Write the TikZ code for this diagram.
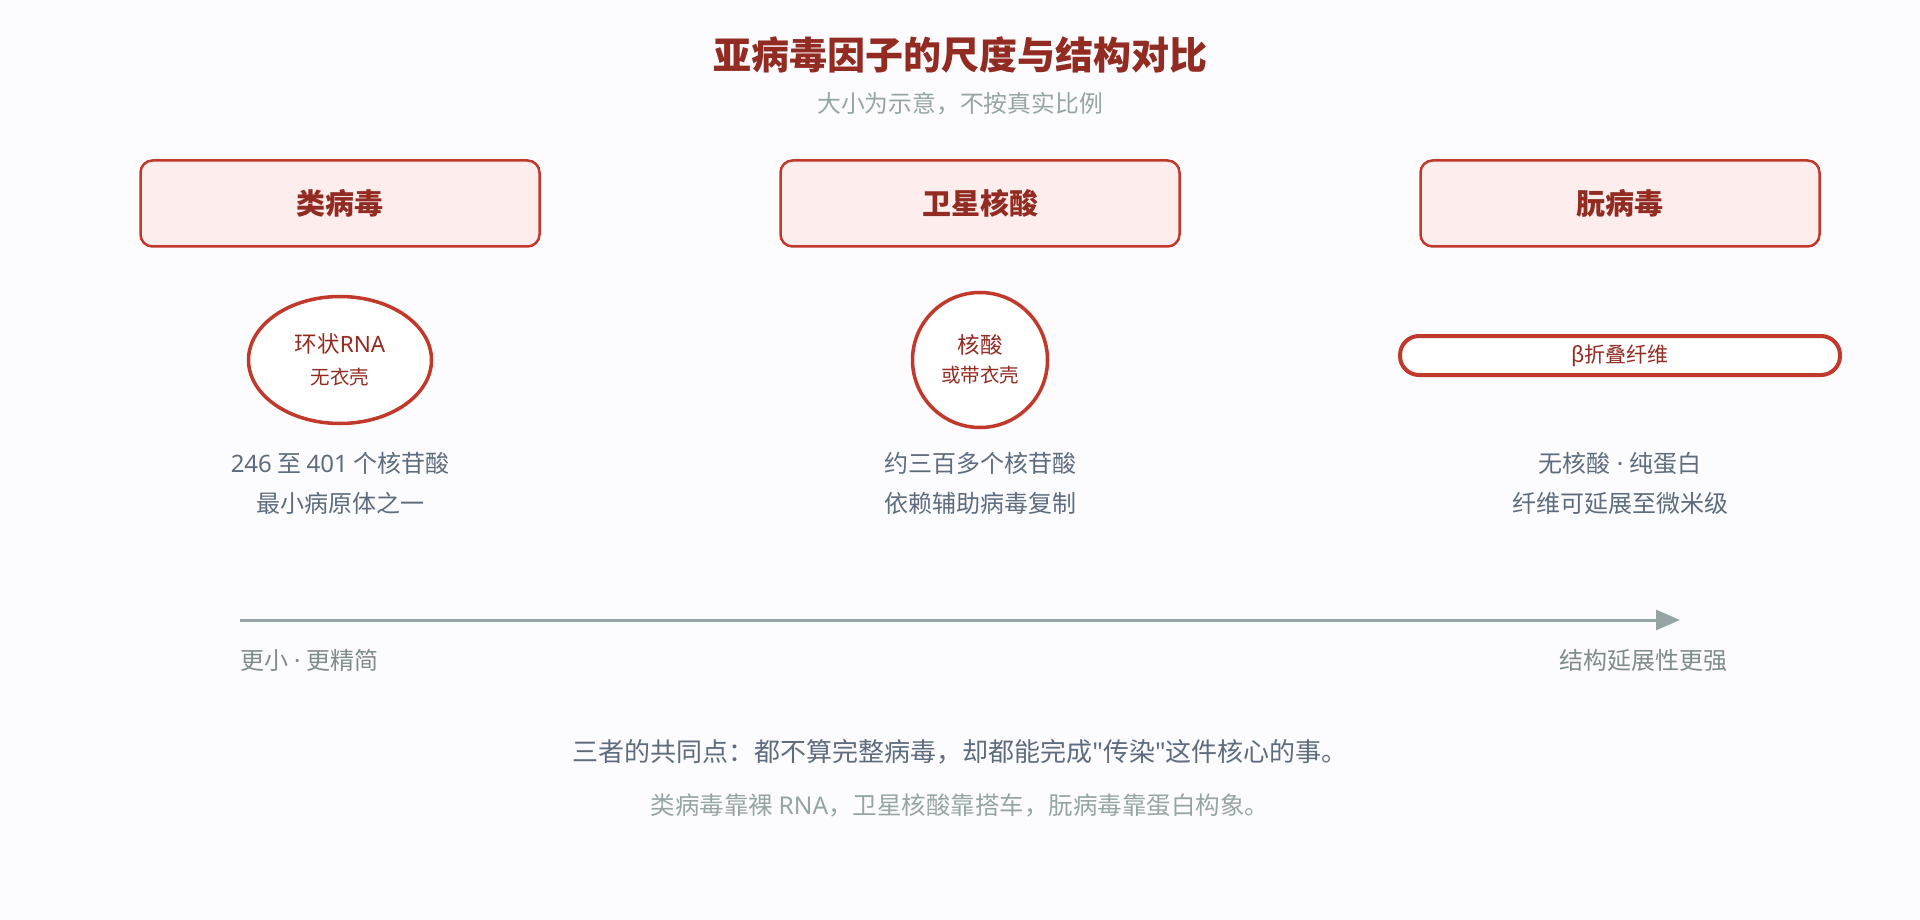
\documentclass[tikz,border=0pt]{standalone}
\usepackage{fontspec}
\setmainfont{Noto Sans CJK SC}[Ligatures=TeXOff]
\newfontfamily\latinf{Noto Sans}[Ligatures=TeXOff]
\usetikzlibrary{shapes.geometric,arrows.meta}
\definecolor{bgc}{HTML}{FCFBFE}
\definecolor{darkred}{HTML}{922B21}
\definecolor{redline}{HTML}{C0392B}
\definecolor{pinkfill}{HTML}{FDEDEC}
\definecolor{slate}{HTML}{5D6D7E}
\definecolor{axisgray}{HTML}{95A5A6}
\definecolor{labelgray}{HTML}{7F8C8D}
\newcommand{\fs}[1]{\fontsize{#1pt}{#1pt}\selectfont}
\newcommand{\lt}[1]{{\latinf #1}}
\tikzset{
  txt/.style={inner sep=0pt, outer sep=0pt},
  catbox/.style={draw=redline, fill=pinkfill, line width=2.5pt, rounded corners=12pt,
    minimum width=399pt, minimum height=86pt, inner sep=0pt, text=darkred, font=\fs{29}\bfseries},
  shapeline/.style={draw=redline, fill=white, line width=3.5pt, inner sep=0pt},
  inlabel/.style={txt, text=darkred, font=\fs{22.5}},
  insub/.style={txt, text=darkred, font=\fs{19.5}},
  desc/.style={txt, text=slate, font=\fs{24}},
  axislabel/.style={txt, text=labelgray, font=\fs{24}},
}
\begin{document}
\begin{tikzpicture}[x=1pt,y=-1pt]
\fill[bgc] (0,0) rectangle (1920,920);
\useasboundingbox (0,0) rectangle (1920,920);

% title
\node[txt, text=darkred, font=\fs{38}\bfseries] (title) at (960,55) {亚病毒因子的尺度与结构对比};
\node[txt, text=axisgray, font=\fs{23.8}] (subtitle) at (960,104) {大小为示意，不按真实比例};

% category boxes
\node[catbox] (viroid) at (340,203.5) {类病毒};
\node[catbox] (satellite) at (980,203.5) {卫星核酸};
\node[catbox] (prion) at (1620,203.5) {朊病毒};

% shapes
\node[shapeline, ellipse, minimum width=183pt, minimum height=127pt] (ell) at (340,360) {};
\node[inlabel] (ellA) at (340,344) {环状\lt{RNA}};
\node[insub] (ellB) at (340,377) {无衣壳};

\node[shapeline, circle, minimum size=135pt] (circ) at (980,360) {};
\node[inlabel] (circA) at (980,345) {核酸};
\node[insub] (circB) at (980,375) {或带衣壳};

\node[draw=redline, fill=white, line width=4pt, rounded corners=19pt,
  minimum width=440pt, minimum height=39pt, inner sep=0pt] (pill) at (1620,355.5) {};
\node[txt, text=darkred, font=\fs{21}] (pillA) at (1620,356) {β折叠纤维};

% descriptions
\node[desc] (d1a) at (340,463) {\lt{246} 至 \lt{401} 个核苷酸};
\node[desc] (d1b) at (340,503) {最小病原体之一};
\node[desc] (d2a) at (980,463) {约三百多个核苷酸};
\node[desc] (d2b) at (980,503) {依赖辅助病毒复制};
\node[desc] (d3a) at (1620,463) {无核酸\lt{ · }纯蛋白};
\node[desc] (d3b) at (1620,503) {纤维可延展至微米级};

% axis
\coordinate (axS) at (240,620);
\coordinate (axE) at (1680,620);
\draw[axisgray, line width=3pt, -{Triangle[length=24pt,width=20pt]}] (axS) -- (axE);
\node[axislabel, anchor=west] (axL) at (240,660) {更小\lt{ · }更精简};
\node[axislabel, anchor=east] (axR) at (1727,660) {结构延展性更强};

% bottom notes
\node[txt, text=slate, font=\fs{26}] (note1) at (960,752) {三者的共同点：都不算完整病毒，却都能完成\lt{"}传染\lt{"}这件核心的事。};
\node[txt, text=axisgray, font=\fs{24.5}] (note2) at (960,805) {类病毒靠裸 \lt{RNA}，卫星核酸靠搭车，朊病毒靠蛋白构象。};
\end{tikzpicture}
\end{document}
